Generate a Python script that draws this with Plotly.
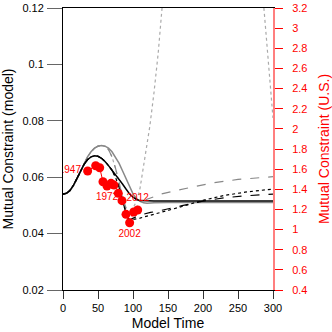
import plotly.graph_objects as go

# ---- model curves (left axis) ----
black_solid_x = [0, 5, 10, 15, 20, 25, 30, 35, 40, 45, 50, 55, 60, 65, 70, 75, 80, 85, 90, 95, 100, 105, 110, 120, 130, 150, 200, 250, 300]
black_solid_y = [0.0540, 0.0543, 0.0553, 0.0572, 0.0596, 0.0622, 0.0645, 0.0662, 0.0672, 0.0676, 0.0674, 0.0667, 0.0656, 0.0641,
                 0.0625, 0.0610, 0.0595, 0.0576, 0.0558, 0.0541, 0.0529, 0.0521, 0.0517, 0.0516, 0.0516, 0.0516, 0.0516, 0.0516, 0.0516]

gray_solid_x = [0, 5, 10, 15, 20, 25, 30, 35, 40, 45, 50, 55, 60, 65, 70, 75, 80, 85, 90, 95, 100, 105, 110, 115, 120, 130, 150, 300]
gray_solid_y = [0.0540, 0.0543, 0.0552, 0.0570, 0.0594, 0.0622, 0.0648, 0.0672, 0.0690, 0.0703, 0.0710, 0.0712, 0.0710, 0.0703,
                0.0690, 0.0672, 0.0650, 0.0623, 0.0595, 0.0566, 0.0541, 0.0524, 0.0514, 0.0509, 0.0508, 0.0509, 0.0510, 0.0510]

gray_dashed_x = [0, 5, 10, 15, 20, 25, 30, 35, 40, 45, 50, 55, 60, 65, 70, 75, 80, 85, 90, 95, 100, 105, 110, 120, 130, 140, 160, 186, 214, 250, 300]
gray_dashed_y = [0.0540, 0.0543, 0.0552, 0.0570, 0.0594, 0.0622, 0.0648, 0.0672, 0.0690, 0.0703, 0.0710, 0.0712, 0.0710, 0.0698,
                 0.0672, 0.0632, 0.0582, 0.0530, 0.0490, 0.0470, 0.0478, 0.0493, 0.0507, 0.0522, 0.0532, 0.0540, 0.0552, 0.0566, 0.0580, 0.0592, 0.0602]

gray_dotted_x = [0, 5, 10, 15, 20, 25, 30, 35, 40, 45, 50, 55, 60, 65, 70, 75, 80, 85, 90, 95, 100, 105, 110, 118, 124, 130, 136, 141.5, 160, 200, 250, 287, 300]
gray_dotted_y = [0.0540, 0.0543, 0.0552, 0.0570, 0.0594, 0.0622, 0.0648, 0.0672, 0.0690, 0.0703, 0.0710, 0.0712, 0.0710, 0.0698,
                 0.0672, 0.0632, 0.0582, 0.0530, 0.0490, 0.0470, 0.0490, 0.0515, 0.0560, 0.0695, 0.0780, 0.0900, 0.1040, 0.1200,
                 0.1600, 0.2500, 0.2000, 0.1200, 0.0810]

black_dashed_x = [0, 5, 10, 15, 20, 25, 30, 35, 40, 45, 50, 55, 60, 65, 70, 75, 80, 85, 90, 93, 96, 100, 110, 125, 140, 170, 200, 230, 260, 300]
black_dashed_y = [0.0540, 0.0543, 0.0553, 0.0572, 0.0596, 0.0622, 0.0645, 0.0662, 0.0672, 0.0676, 0.0674, 0.0667, 0.0656, 0.0641,
                  0.0625, 0.0600, 0.0565, 0.0515, 0.0470, 0.0452, 0.0450, 0.0455, 0.0466, 0.0475, 0.0482, 0.0499, 0.0515, 0.0527, 0.0534, 0.0540]

black_dotted_x = [0, 5, 10, 15, 20, 25, 30, 35, 40, 45, 50, 55, 60, 65, 70, 75, 80, 85, 90, 93, 96, 100, 110, 125, 140, 170, 200, 230, 260, 300]
black_dotted_y = [0.0540, 0.0543, 0.0553, 0.0572, 0.0596, 0.0622, 0.0645, 0.0662, 0.0672, 0.0676, 0.0674, 0.0667, 0.0656, 0.0641,
                  0.0625, 0.0600, 0.0565, 0.0515, 0.0470, 0.0452, 0.0450, 0.0450, 0.0455, 0.0465, 0.0475, 0.0496, 0.0518, 0.0535, 0.0547, 0.0558]

# ---- U.S. observations (right axis) ----
us_time = [35.2, 46.7, 52.4, 57.1, 62.9, 68.6, 72.9, 79.0, 84.3, 90.0, 95.2, 101.0, 106.7]
us_value = [1.582, 1.634, 1.614, 1.475, 1.432, 1.459, 1.442, 1.360, 1.287, 1.151, 1.068, 1.174, 1.194]
us_label = ["1947", "", "", "", "1972", "", "", "", "", "", "2002", "", "2012"]
us_textpos = ["middle left", "top center", "top center", "top center", "bottom center", "top center", "top center",
              "top center", "top center", "top center", "bottom center", "top center", "top center"]

x_ticks = [0, 50, 100, 150, 200, 250, 300]

FONT = "Liberation Sans, Arial, Helvetica, sans-serif"

fig = go.Figure()


def add_curve(x, y, color, dash, width):
    fig.add_trace(go.Scatter(x=x, y=y, mode="lines", line=dict(color=color, dash=dash, width=width),
                             showlegend=False, hoverinfo="skip"))


add_curve(gray_dotted_x, gray_dotted_y, "#aaaaaa", "dot", 1.2)
add_curve(gray_dashed_x, gray_dashed_y, "#888888", "dash", 1.2)
add_curve(gray_solid_x, gray_solid_y, "#888888", "solid", 1.5)
add_curve(black_dotted_x, black_dotted_y, "#000000", "dot", 1.2)
add_curve(black_dashed_x, black_dashed_y, "#000000", "dash", 1.2)
add_curve(black_solid_x, black_solid_y, "#000000", "solid", 1.5)

fig.add_trace(go.Scatter(
    x=us_time, y=us_value, yaxis="y2", mode="lines+markers+text",
    line=dict(color="red", width=1, dash="dash"),
    marker=dict(color="red", size=9),
    text=us_label, textposition=us_textpos,
    textfont=dict(color="red", size=10, family=FONT),
    showlegend=False, hoverinfo="skip", cliponaxis=True,
))

fig.update_layout(
    width=332, height=332,
    margin=dict(l=63, r=59, t=8, b=42, autoexpand=False),
    paper_bgcolor="white", plot_bgcolor="white",
    font=dict(family=FONT, size=11, color="black"),
    hovermode=False,
    xaxis=dict(range=[0, 300], tickvals=x_ticks, ticks="outside", ticklen=8, tickcolor="#333",
               showline=True, linecolor="black", linewidth=1, mirror=True, showgrid=False, zeroline=False,
               automargin=False,
               title=dict(text="Model Time", font=dict(size=14), standoff=4),
               tickfont=dict(size=11)),
    yaxis=dict(range=[0.02, 0.12], dtick=0.02, tick0=0.02, ticks="outside", ticklen=15, tickcolor="#666",
               showline=True, linecolor="black", linewidth=1, showgrid=False, zeroline=False,
               automargin=False, ticklabelstandoff=1,
               title=dict(text="Mutual Constraint (model)", font=dict(size=14), standoff=8),
               tickfont=dict(size=11)),
    yaxis2=dict(range=[0.4, 3.2], dtick=0.2, tick0=0.4, overlaying="y", side="right", anchor="x",
                ticks="outside", ticklen=8, tickcolor="red", automargin=False, ticklabelstandoff=7,
                showline=True, linecolor="rgba(255,0,0,0.5)", linewidth=2, showgrid=False, zeroline=False,
                title=dict(text="Mutual Constraint (U.S.)", font=dict(size=14, color="red"), standoff=15),
                tickfont=dict(size=11, color="red")),
)

fig.write_html("out.html", config={"displayModeBar": False, "staticPlot": True},
               post_script="document.body.style.margin='0';document.body.style.overflow='hidden';")
